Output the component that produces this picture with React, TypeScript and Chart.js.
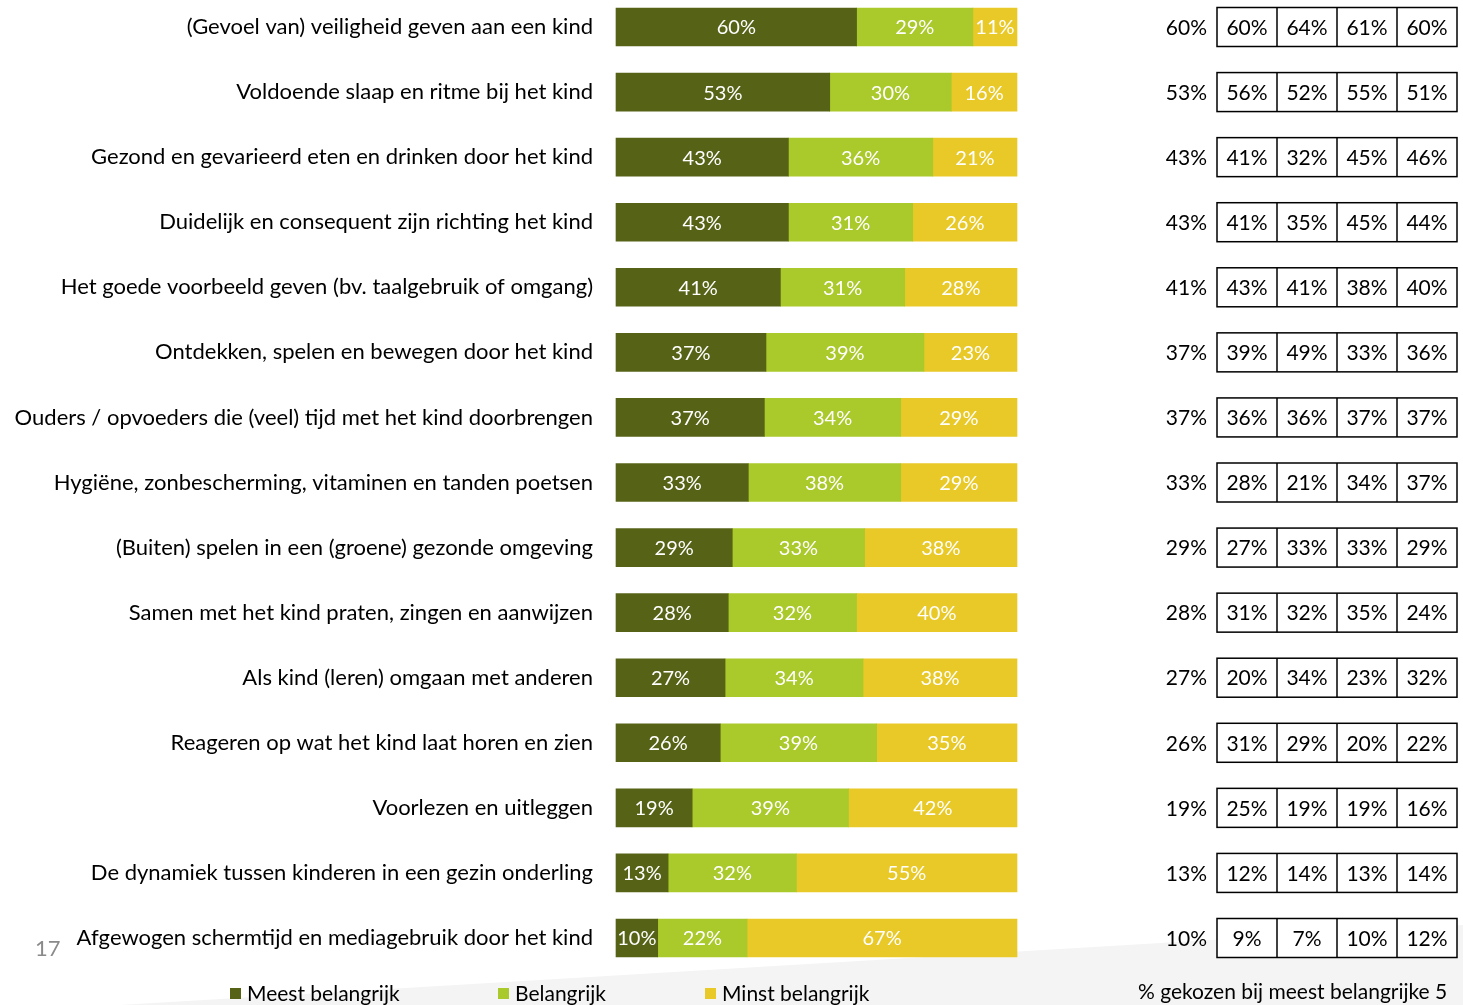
import React, { useEffect, useRef } from "react";
import { Chart, registerables } from "chart.js";

Chart.register(...registerables);

const categories = [
  "(Gevoel van) veiligheid geven aan een kind",
  "Voldoende slaap en ritme bij het kind",
  "Gezond en gevarieerd eten en drinken door het kind",
  "Duidelijk en consequent zijn richting het kind",
  "Het goede voorbeeld geven (bv. taalgebruik of omgang)",
  "Ontdekken, spelen en bewegen door het kind",
  "Ouders / opvoeders die (veel) tijd met het kind doorbrengen",
  "Hygiëne, zonbescherming, vitaminen en tanden poetsen",
  "(Buiten) spelen in een (groene) gezonde omgeving",
  "Samen met het kind praten, zingen en aanwijzen",
  "Als kind (leren) omgaan met anderen",
  "Reageren op wat het kind laat horen en zien",
  "Voorlezen en uitleggen",
  "De dynamiek tussen kinderen in een gezin onderling",
  "Afgewogen schermtijd en mediagebruik door het kind",
];

const meestBelangrijk = [60, 53.3, 43, 43, 41, 37.4, 37, 33, 29, 28, 27.2, 26, 19, 13, 10.4];
const belangrijk = [29, 30.3, 36, 31, 31, 39.4, 34, 38, 33, 32, 34.4, 39, 39, 32, 22.3];
const minstBelangrijk = [11, 16.4, 21, 26, 28, 23.2, 29, 29, 38, 40, 38.4, 35, 42, 55, 67.3];

const totaalTop5 = [60, 53, 43, 43, 41, 37, 37, 33, 29, 28, 27, 26, 19, 13, 10];
const groep1 = [60, 56, 41, 41, 43, 39, 36, 28, 27, 31, 20, 31, 25, 12, 9];
const groep2 = [64, 52, 32, 35, 41, 49, 36, 21, 33, 32, 34, 29, 19, 14, 7];
const groep3 = [61, 55, 45, 45, 38, 33, 37, 34, 33, 35, 23, 20, 19, 13, 10];
const groep4 = [60, 51, 46, 44, 40, 36, 37, 37, 29, 24, 32, 22, 16, 14, 12];

const seriesNames = ["Meest belangrijk", "Belangrijk", "Minst belangrijk"];
const seriesColors = ["#566317", "#aac92a", "#e9c928"];
const footnote = "% gekozen bij meest belangrijke 5";
const pageNumber = "17";

const FONT = "Lato, 'Open Sans', sans-serif";

const overlayPlugin = {
  id: "overlay",
  beforeDraw(chart: any) {
    const ctx = chart.ctx;
    ctx.save();
    ctx.fillStyle = "#ffffff";
    ctx.fillRect(0, 0, chart.width, chart.height);
    ctx.fillStyle = "#f4f4f4";
    ctx.beginPath();
    ctx.moveTo(120, chart.height);
    ctx.lineTo(chart.width, 925);
    ctx.lineTo(chart.width, chart.height);
    ctx.closePath();
    ctx.fill();
    ctx.restore();
  },
  afterDatasetsDraw(chart: any) {
    const ctx = chart.ctx;
    ctx.save();
    ctx.font = `20px ${FONT}`;
    ctx.fillStyle = "#ffffff";
    ctx.textAlign = "center";
    ctx.textBaseline = "middle";
    chart.data.datasets.forEach((ds: any, di: number) => {
      const meta = chart.getDatasetMeta(di);
      meta.data.forEach((bar: any, i: number) => {
        const v = ds.data[i];
        const cx = (bar.base + bar.x) / 2;
        ctx.fillText(`${Math.round(v)}%`, cx, bar.y + 1);
      });
    });
    ctx.restore();
  },
  afterDraw(chart: any) {
    const ctx = chart.ctx;
    const y = chart.scales.y;
    ctx.save();
    const cols = [groep1, groep2, groep3, groep4];
    const boxLeft = 1217;
    const cellW = 60;
    const boxH = 39;
    ctx.font = `21px ${FONT}`;
    ctx.textBaseline = "middle";
    categories.forEach((_, i) => {
      const cy = y.getPixelForValue(i);
      ctx.fillStyle = "#000";
      ctx.textAlign = "right";
      ctx.fillText(`${totaalTop5[i]}%`, 1207, cy + 1);
      ctx.fillStyle = "#ffffff";
      ctx.fillRect(boxLeft, cy - boxH / 2, cellW * 4, boxH);
      ctx.strokeStyle = "#000";
      ctx.lineWidth = 1.5;
      ctx.strokeRect(boxLeft, cy - boxH / 2, cellW * 4, boxH);
      for (let c = 1; c < 4; c++) {
        ctx.beginPath();
        ctx.moveTo(boxLeft + c * cellW, cy - boxH / 2);
        ctx.lineTo(boxLeft + c * cellW, cy + boxH / 2);
        ctx.stroke();
      }
      ctx.fillStyle = "#000";
      ctx.textAlign = "center";
      cols.forEach((col, c) => {
        ctx.fillText(`${col[i]}%`, boxLeft + c * cellW + cellW / 2, cy + 1);
      });
    });
    const legendX = [230, 498, 705];
    ctx.textAlign = "left";
    ctx.font = `21px ${FONT}`;
    seriesNames.forEach((name, k) => {
      ctx.fillStyle = seriesColors[k];
      ctx.fillRect(legendX[k], 988, 11, 11);
      ctx.fillStyle = "#000";
      ctx.fillText(name, legendX[k] + 17, 994);
    });
    ctx.fillText(footnote, 1138, 992);
    ctx.fillStyle = "#8a8a8a";
    ctx.font = `22px ${FONT}`;
    ctx.fillText(pageNumber, 35, 949);
    ctx.restore();
  },
};

export default function App() {
  const ref = useRef<HTMLCanvasElement>(null);
  useEffect(() => {
    if (!ref.current) return;
    const chart = new Chart(ref.current, {
      type: "bar",
      data: {
        labels: categories,
        datasets: [meestBelangrijk, belangrijk, minstBelangrijk].map((d, k) => ({
          label: seriesNames[k],
          data: d,
          backgroundColor: seriesColors[k],
          borderWidth: 0,
          barThickness: 38,
        })),
      },
      options: {
        indexAxis: "y",
        responsive: false,
        animation: false,
        clip: false,
        layout: { padding: { top: 27, bottom: 67, left: 0, right: 446 } },
        plugins: { legend: { display: false }, tooltip: { enabled: false } },
        scales: {
          x: { type: "linear", min: 0, max: 100, stacked: true, display: false },
          y: {
            type: "category",
            stacked: true,
            offset: false,
            grid: { display: false, drawTicks: false },
            border: { display: false },
            ticks: {
              color: "#000",
              padding: 23,
              font: { family: FONT, size: 22 },
              autoSkip: false,
            },
            afterFit: (scale: any) => {
              scale.width = 616;
              scale.paddingTop = 0;
              scale.paddingBottom = 0;
            },
          },
        },
      } as any,
      plugins: [overlayPlugin],
    });
    return () => chart.destroy();
  }, []);
  return (
    <div style={{ position: "absolute", left: 0, top: 0, width: 1463, height: 1005 }}>
      <canvas ref={ref} width={1463} height={1005} />
    </div>
  );
}
